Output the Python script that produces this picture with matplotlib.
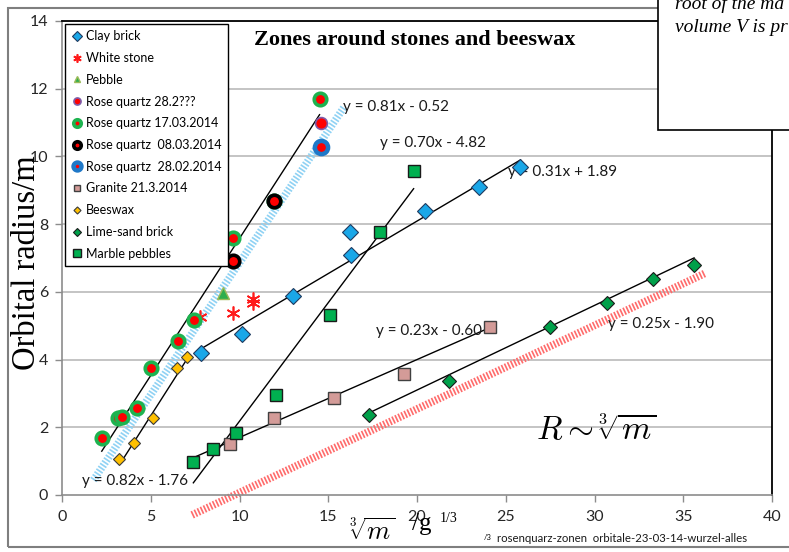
import matplotlib
matplotlib.use("Agg")
import matplotlib.pyplot as plt
from matplotlib.patches import Rectangle
import numpy as np

# ---------------- data ----------------
clay_x = [7.82, 10.13, 12.99, 16.24, 16.28, 20.47, 23.48, 25.83]
clay_y = [4.18, 4.77, 5.88, 7.78, 7.09, 8.39, 9.09, 9.68]

white_x = [7.78, 9.63, 10.75, 10.75]
white_y = [5.27, 5.37, 5.66, 5.79]

pebble_x = [9.06]
pebble_y = [5.96]

rq_282_x = [14.59]
rq_282_y = [10.98]

rq_1703_x = [2.24, 3.17, 3.37, 4.21, 5.02, 6.56, 7.41, 9.61, 11.96, 14.55]
rq_1703_y = [1.67, 2.28, 2.31, 2.58, 3.76, 4.56, 5.17, 7.58, 8.69, 11.69]

rq_0803_x = [9.63, 11.96]
rq_0803_y = [6.92, 8.69]

rq_2802_x = [14.59]
rq_2802_y = [10.29]

granite_x = [9.44, 11.92, 15.30, 19.25, 24.14]
granite_y = [1.51, 2.26, 2.86, 3.57, 4.97]

beeswax_x = [3.21, 4.06, 5.12, 6.50, 7.03]
beeswax_y = [1.05, 1.55, 2.27, 3.76, 4.07]

lime_x = [17.28, 21.79, 27.49, 30.68, 33.32, 35.61]
lime_y = [2.36, 3.38, 4.97, 5.68, 6.38, 6.79]

marble_x = [7.37, 8.48, 9.81, 12.05, 15.12, 17.94, 19.81]
marble_y = [0.97, 1.36, 1.82, 2.96, 5.32, 7.78, 9.58]

# trendlines: (slope, intercept, x_start, x_end, label)
trend_slopes = [0.81, 0.82, 0.31, 0.70, 0.23, 0.25]
trend_inter = [-0.52, -1.76, 1.89, -4.82, -0.60, -1.90]
trend_x0 = [2.24, 3.46, 7.78, 7.40, 7.37, 17.28]
trend_x1 = [14.51, 7.12, 25.83, 19.81, 24.14, 35.61]
trend_labels = ["y = 0.81x - 0.52", "y = 0.82x - 1.76", "y = 0.31x + 1.89",
                "y = 0.70x - 4.82", "y = 0.23x - 0.60", "y = 0.25x - 1.90"]
# label anchor (data coords, left/center)
trend_lab_x = [15.85, 1.15, 25.15, 17.9, 17.7, 30.75]
trend_lab_y = [11.45, 0.42, 9.55, 10.4, 4.84, 5.05]

# decorative guide lines (slope, intercept, x_start, x_end)
guide_slopes = [0.78, 0.247]
guide_inter = [-0.94, -2.40]
guide_x0 = [1.77, 7.33]
guide_x1 = [15.87, 36.27]
guide_colors = ["#8fd2f4", "#ff6b6b"]

xticks = [0, 5, 10, 15, 20, 25, 30, 35, 40]
yticks = [0, 2, 4, 6, 8, 10, 12, 14]

# ---------------- figure ----------------
W, H = 789, 552
fig = plt.figure(figsize=(W / 100, H / 100), dpi=100)
fig.patch.set_facecolor("white")

def fx(px):
    return px / W

def fy(py):
    return 1 - py / H

ax = fig.add_axes([fx(62), fy(495), fx(772) - fx(62), fy(21) - fy(495)])
ax.set_xlim(0, 40)
ax.set_ylim(0, 14)

for y in yticks[1:]:
    ax.axhline(y, color="#bfbfbf", lw=1.3, zorder=0)

for s in ["left", "bottom"]:
    ax.spines[s].set_color("#8c8c8c")
    ax.spines[s].set_linewidth(1.2)
for s in ["top", "right"]:
    ax.spines[s].set_color("black")
    ax.spines[s].set_linewidth(1.3)

tickfont = dict(family="Lato", size=11.5)
ax.set_xticks(xticks)
ax.set_yticks(yticks)
ax.set_xticklabels([str(v) for v in xticks], fontdict=tickfont)
ax.set_yticklabels([str(v) for v in yticks], fontdict=tickfont)
ax.tick_params(axis="both", direction="out", length=5, width=1, color="#8c8c8c",
               labelcolor="#262626")
ax.tick_params(axis="x", pad=6)
ax.tick_params(axis="y", pad=5)

# guide lines
for m, b, x0, x1, c in zip(guide_slopes, guide_inter, guide_x0, guide_x1, guide_colors):
    xs = np.array([x0, x1])
    ax.plot(xs, m * xs + b, color=c, lw=5.5, ls=(0, (0.22, 0.22)),
            solid_capstyle="butt", dash_capstyle="butt", clip_on=False, zorder=1)

# trendlines
for m, b, x0, x1 in zip(trend_slopes, trend_inter, trend_x0, trend_x1):
    xs = np.array([x0, x1])
    ax.plot(xs, m * xs + b, color="black", lw=1.0, zorder=2)

for t, x, y in zip(trend_labels, trend_lab_x, trend_lab_y):
    ax.text(x, y, t, family="Lato", fontsize=11, color="#1a1a1a", ha="left",
            va="center", zorder=3)

# series
ax.plot(clay_x, clay_y, "D", ms=8.5, mfc="#1aa7e8", mec="#1f3a5f", mew=0.8,
        ls="none", label="Clay brick", zorder=5)
ax.plot(white_x, white_y, marker=(6, 2, 0), ms=10, mec="#ff1a1a", mew=1.2,
        ls="none", label="White stone", zorder=5)
ax.plot(pebble_x, pebble_y, "^", ms=8, mfc="#2fae4e", mec="#9bbb59", mew=1,
        ls="none", label="Pebble", zorder=5)
ax.plot(rq_282_x, rq_282_y, "o", ms=8.5, mfc="#ff0000", mec="#7f5ca8", mew=1.2,
        ls="none", label="Rose quartz 28.2???", zorder=5)
ax.plot(rq_1703_x, rq_1703_y, "o", ms=9, mfc="#ff0000", mec="#1db34f", mew=2.6,
        ls="none", label="Rose quartz 17.03.2014", zorder=5)
ax.plot(rq_0803_x, rq_0803_y, "o", ms=9, mfc="#ff0000", mec="black", mew=2.6,
        ls="none", label="Rose quartz  08.03.2014", zorder=6)
ax.plot(rq_2802_x, rq_2802_y, "o", ms=9.5, mfc="#ff0000", mec="#1f78c8", mew=3.2,
        ls="none", label="Rose quartz  28.02.2014", zorder=5)
ax.plot(granite_x, granite_y, "s", ms=8, mfc="#d39b98", mec="#404040", mew=1.0,
        ls="none", label="Granite 21.3.2014", zorder=5)
ax.plot(beeswax_x, beeswax_y, "D", ms=6, mfc="#ffc000", mec="#3a3a3a", mew=0.8,
        ls="none", label="Beeswax", zorder=5)
ax.plot(lime_x, lime_y, "D", ms=7.5, mfc="#00a04a", mec="#1a1a1a", mew=0.8,
        ls="none", label="Lime-sand brick", zorder=5)
ax.plot(marble_x, marble_y, "s", ms=8.5, mfc="#00b050", mec="#1a1a1a", mew=1.0,
        ls="none", label="Marble pebbles", zorder=5)

leg = ax.legend(loc="upper left", bbox_to_anchor=(fx(65), fy(24)),
                bbox_transform=fig.transFigure, borderaxespad=0,
                prop=dict(family="Lato", size=9), frameon=True, fancybox=False,
                edgecolor="black", framealpha=1, labelspacing=0.78,
                handlelength=0.9, handletextpad=0.3, borderpad=0.5,
                markerscale=0.6)
leg.get_frame().set_linewidth(1.0)
leg.set_zorder(10)

# title
fig.text(fx(415), fy(40), "Zones around stones and beeswax", family="Liberation Serif",
         fontweight="bold", fontsize=16, ha="center", va="center")

# y label
fig.text(fx(27), fy(263), "Orbital radius/m", family="Liberation Serif", fontsize=23.5,
         rotation=90, ha="center", va="center", zorder=3)

# x label pieces
fig.text(fx(372), fy(533), r"$\sqrt[3]{m}$", fontsize=19, ha="center", va="center",
         math_fontfamily="cm")
fig.text(fx(412), fy(524), "/g", family="Liberation Serif", fontsize=18,
         ha="left", va="center")
fig.text(fx(440), fy(519), "1/3", family="Liberation Serif", fontsize=10,
         ha="left", va="center")
fig.text(fx(484), fy(538), "/3", family="Lato", fontsize=5.5, ha="left", va="center")
fig.text(fx(497), fy(538), "rosenquarz-zonen  orbitale-23-03-14-wurzel-alles",
         family="Lato", fontsize=8.2, ha="left", va="center", color="#1a1a1a")

# R ~ cube root m
fig.text(fx(596), fy(430), r"$R \sim \sqrt[3]{m}$", fontsize=24, ha="center",
         va="center", math_fontfamily="cm")

# outer chart border
fig.patches.append(Rectangle((fx(8), fy(547)), fx(800) - fx(8), fy(8) - fy(547),
                             transform=fig.transFigure, fill=False,
                             edgecolor="#7f7f7f", lw=1.5, zorder=0))

# top-right text box (cut off at the figure edge, as in the original)
fig.patches.append(Rectangle((fx(658), fy(130)), fx(800) - fx(658), fy(-5) - fy(130),
                             transform=fig.transFigure, facecolor="white",
                             edgecolor="black", lw=1.2, zorder=20))
fig.text(fx(675), fy(4), "root of the ma", family="Liberation Serif",
         style="italic", fontsize=14, ha="left", va="center", zorder=21)
fig.text(fx(675), fy(27), "volume V is pr", family="Liberation Serif",
         style="italic", fontsize=14, ha="left", va="center", zorder=21)

fig.savefig("out.png", dpi=100)
